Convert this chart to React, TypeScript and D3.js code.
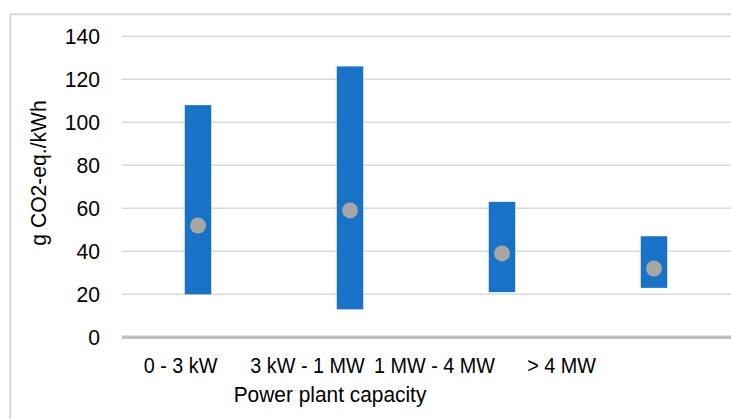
import React from "react";
import * as d3 from "d3";

const categories = ["0 - 3 kW", "3 kW - 1 MW", "1 MW - 4 MW", "> 4 MW"];
const lowValues = [20, 13, 21, 23];
const highValues = [108, 126, 63, 47];
const midValues = [52, 59, 39, 32];
const yTicks = [0, 20, 40, 60, 80, 100, 120, 140];
const yTitle = "g CO2-eq./kWh";
const xTitle = "Power plant capacity";

const W = 731;
const H = 419;

export default function App() {
  const y = d3.scaleLinear().domain([0, 140]).range([337.3, 36.3]);
  const x = d3.scaleBand<string>().domain(categories).range([122, 730]);
  const xl = d3.scaleBand<string>().domain(categories).range([117, 625]);
  const barW = 26.5;
  const font = "Liberation Sans, Arial, sans-serif";

  return (
    <svg
      width={W}
      height={H}
      style={{ position: "absolute", left: 0, top: 0, background: "#fff" }}
      fontFamily={font}
    >
      <rect x={10.3} y={14.3} width={W + 20} height={H + 20} fill="#fff" stroke="#D9D9D9" strokeWidth={2} />
      {yTicks.filter((t) => t !== 0).map((t) => (
        <line key={t} x1={122} x2={W} y1={y(t)} y2={y(t)} stroke="#D9D9D9" strokeWidth={1.5} />
      ))}
      <line x1={122} x2={W} y1={y(0)} y2={y(0)} stroke="#BFBFBF" strokeWidth={3.5} />
      {yTicks.map((t) => (
        <text
          key={t}
          transform={`translate(100,${y(t)}) scale(0.96,1)`}
          dy="0.36em"
          textAnchor="end"
          fontSize={22}
          fill="#000"
        >
          {t}
        </text>
      ))}
      <text
        transform={`translate(46,173) rotate(-90) scale(0.96,1)`}
        textAnchor="middle"
        fontSize={22}
        fill="#000"
      >
        {yTitle}
      </text>
      {categories.map((c, i) => {
        const cx = (x(c) as number) + x.bandwidth() / 2;
        return (
          <g key={c}>
            <rect
              x={cx - barW / 2}
              y={y(highValues[i])}
              width={barW}
              height={y(lowValues[i]) - y(highValues[i])}
              fill="#1872C6"
            />
            <circle cx={cx} cy={y(midValues[i])} r={8} fill="#A6A6A6" />
          </g>
        );
      })}
      {categories.map((c) => (
        <text
          key={c}
          transform={`translate(${(xl(c) as number) + xl.bandwidth() / 2},372.7) scale(0.9,1)`}
          textAnchor="middle"
          fontSize={22}
          fill="#000"
        >
          {c}
        </text>
      ))}
      <text
        transform="translate(330,401.7) scale(0.95,1)"
        textAnchor="middle"
        fontSize={22}
        fill="#000"
      >
        {xTitle}
      </text>
    </svg>
  );
}
